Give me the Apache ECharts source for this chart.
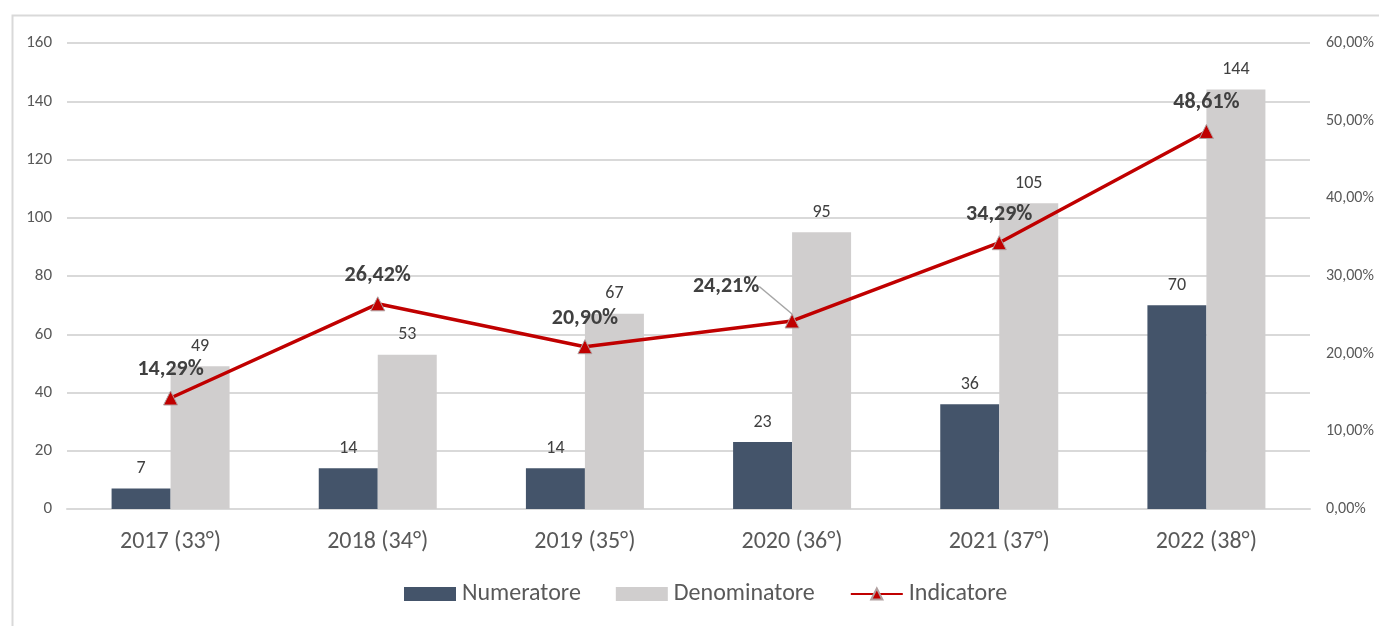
<!DOCTYPE html>
<html>
<head>
<meta charset="utf-8">
<script src="https://cdn.jsdelivr.net/npm/echarts@6/dist/echarts.min.js"></script>
<style>html,body{margin:0;padding:0;background:#fff;}#c{width:1379px;height:626px;}</style>
</head>
<body>
<div id="c"></div>
<script>
const categories = ['2017 (33°)', '2018 (34°)', '2019 (35°)', '2020 (36°)', '2021 (37°)', '2022 (38°)'];
const numeratore = [7, 14, 14, 23, 36, 70];
const denominatore = [49, 53, 67, 95, 105, 144];
const indicatore = [14.29, 26.42, 20.90, 24.21, 34.29, 48.61];

const FONT = 'Carlito, Calibri, Lato, "Open Sans", sans-serif';
const pct = v => v.toFixed(2).replace('.', ',') + '%';

const chart = echarts.init(document.getElementById('c'), null, {renderer: 'canvas'});
chart.setOption({
  backgroundColor: '#ffffff',
  animation: false,
  textStyle: {fontFamily: FONT},
  graphic: [{
    type: 'rect', left: 10, top: 13, z: -10,
    shape: {width: 1400, height: 700},
    style: {fill: 'none', stroke: '#d9d9d9', lineWidth: 2}
  }],
  grid: {left: 67, right: 69, top: 43, bottom: 117, containLabel: false},
  legend: {
    bottom: 15, left: 399,
    itemWidth: 52, itemHeight: 14, itemGap: 35,
    textStyle: {fontFamily: FONT, fontSize: 24, color: '#595959', padding: [0, 0, 0, 1]},
    data: [
      {name: 'Numeratore', icon: 'rect'},
      {name: 'Denominatore', icon: 'rect'},
      {name: 'Indicatore'}
    ]
  },
  xAxis: {
    type: 'category', data: categories,
    axisLine: {show: true, lineStyle: {color: '#d9d9d9', width: 2}},
    axisTick: {show: false},
    axisLabel: {fontFamily: FONT, fontSize: 24, color: '#595959', margin: 21}
  },
  yAxis: [{
    type: 'value', min: 0, max: 160, interval: 20,
    axisLine: {show: false}, axisTick: {show: false},
    axisLabel: {fontFamily: FONT, fontSize: 17, color: '#595959', margin: 15},
    splitLine: {lineStyle: {color: '#d9d9d9', width: 2}}
  }, {
    type: 'value', min: 0, max: 60, interval: 10,
    axisLine: {show: false}, axisTick: {show: false},
    axisLabel: {fontFamily: FONT, fontSize: 16, color: '#595959', margin: 16, formatter: v => pct(v)},
    splitLine: {show: false}
  }],
  series: [{
    name: 'Numeratore', type: 'bar', data: numeratore,
    barWidth: 59, barGap: '0%',
    itemStyle: {color: '#44546a'},
    label: {show: true, position: 'top', distance: 11, fontFamily: FONT, fontSize: 18, color: '#404040'}
  }, {
    name: 'Denominatore', type: 'bar', data: denominatore,
    barWidth: 59,
    itemStyle: {color: '#d0cece'},
    label: {show: true, position: 'top', distance: 11, fontFamily: FONT, fontSize: 18, color: '#404040'}
  }, {
    name: 'Indicatore', type: 'line', yAxisIndex: 1,
    data: indicatore.map((v, i) => i === 3 ? {value: v, labelLine: {show: true}} : v),
    symbol: 'triangle', symbolSize: 14,
    lineStyle: {color: '#c00000', width: 3.5},
    itemStyle: {color: '#c00000', borderColor: '#b0a0a0', borderWidth: 1},
    z: 5,
    label: {
      show: true, position: 'top', distance: 10,
      fontFamily: FONT, fontSize: 22, fontWeight: 'bold', color: '#404040',
      formatter: p => pct(p.value)
    },
    labelLine: {lineStyle: {color: '#a6a6a6', width: 1.5}},
    labelLayout: function (p) {
      if (p.dataIndex === 3) return {dx: -66, dy: -6};
      return {};
    }
  }]
});
</script>
</body>
</html>
